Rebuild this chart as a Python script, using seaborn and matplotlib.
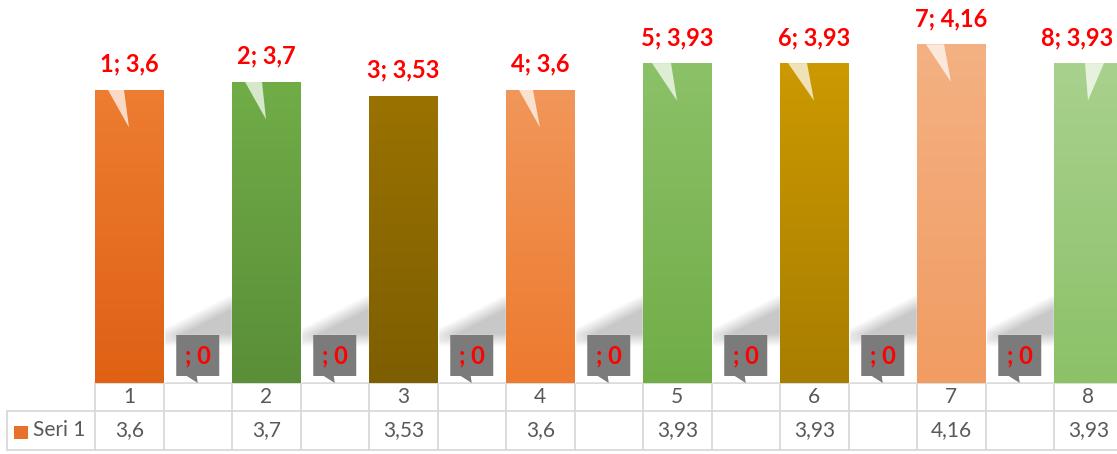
import numpy as np
import seaborn as sns
import matplotlib.pyplot as plt
import matplotlib.transforms as mtransforms
from matplotlib.colors import to_rgb
from matplotlib.patches import Polygon, Rectangle

sns.set_style("white")
plt.rcParams['font.family'] = ['Lato', 'DejaVu Sans']

# data
categories = ['1', '', '2', '', '3', '', '4', '', '5', '', '6', '', '7', '', '8']
values = [3.6, 0, 3.7, 0, 3.53, 0, 3.6, 0, 3.93, 0, 3.93, 0, 4.16, 0, 3.93]
series_name = 'Seri 1'

# gradient colours per slot (top, bottom)
top_colors = ['#ED7D31', '#FFFFFF', '#70AD47', '#FFFFFF', '#9A7200', '#FFFFFF',
              '#F1975A', '#FFFFFF', '#8CC168', '#FFFFFF', '#CC9900', '#FFFFFF',
              '#F4B183', '#FFFFFF', '#A9D18E']
bot_colors = ['#DF6114', '#FFFFFF', '#5A8E38', '#FFFFFF', '#7D5E00', '#FFFFFF',
              '#ED7A2E', '#FFFFFF', '#70AD47', '#FFFFFF', '#A87E00', '#FFFFFF',
              '#F19C62', '#FFFFFF', '#8CC168']
# white glint under each label pointer (pixel offsets from bar left)
glint = {0: (13, 29), 2: (13, 30), 6: (13, 27), 8: (9, 28), 10: (8, 27),
         12: (9, 27), 14: (31, 50)}

W, H = 1117, 454
fig = plt.figure(figsize=(W / 100, H / 100), dpi=100)
cell = 68.5
base_px = 383
px_per_unit = 81.4
ax = fig.add_axes([95 / W, (H - base_px) / H, 15 * cell / W, base_px / H])

pos = list(range(len(values)))
sns.barplot(x=pos, y=values, hue=pos, palette=top_colors, legend=False,
            width=1.0, saturation=1, ax=ax, zorder=2)
ax.axis('off')

bars = sorted(ax.patches, key=lambda p: p.get_x())
for i, p in enumerate(bars):
    h = p.get_height()
    if h <= 0:
        continue
    x0, w = p.get_x(), p.get_width()
    c1, c2 = np.array(to_rgb(top_colors[i])), np.array(to_rgb(bot_colors[i]))
    t = np.linspace(0, 1, 200)[:, None, None]
    grad = c1 * (1 - t) + c2 * t
    im = ax.imshow(grad, extent=(x0, x0 + w, 0, h), aspect='auto', zorder=3,
                   origin='upper')
    im.set_clip_path(p)
    if i in glint:
        a, b = glint[i]
        du = 1 / cell
        tri = Polygon([(x0 + a * du, h), (x0 + b * du, h),
                       (x0 + 34 * du, h - 37.5 / px_per_unit)],
                      closed=True, fc='white', ec='none', alpha=0.72, zorder=4)
        ax.add_patch(tri)
ax.set_xlim(-0.5, len(values) - 0.5)
ax.set_ylim(0, base_px / px_per_unit)


def fmt(v):
    return f"{v:g}".replace('.', ',')


# soft shadow mask for the zero-value callouts (pixel grid of one cell)
gx = np.linspace(-34.25, 34.25, 70)
gy = np.linspace(0, 95, 96)
XX, YY = np.meshgrid(gx, gy)
edge = 47 + (XX + 34.25) * (35 / 68.5)
shade = np.clip((edge - YY) / 16 + 0.5, 0, 1)
shade *= np.clip((YY - 36) / 14, 0, 1)
shadow_img = np.zeros(XX.shape + (4,))
shadow_img[..., :3] = 0.1
shadow_img[..., 3] = 0.24 * shade

labels = []
for i, (cat, v) in enumerate(zip(categories, values)):
    if v > 0:
        t = ax.annotate(f"{cat}; {fmt(v)}", xy=(i, v), xytext=(0, 13),
                        textcoords='offset points', ha='center', va='baseline',
                        color='#FF0000', fontsize=17, fontweight='bold',
                        annotation_clip=False, zorder=6)
        labels.append(t)
    else:
        ax.imshow(shadow_img, extent=(i - 0.5, i + 0.5, 0, 95 / px_per_unit),
                  origin='lower', aspect='auto', zorder=1)
        px, py = ax.transData.transform((i, v))
        tr = mtransforms.Affine2D().translate(px, py)
        box = Polygon([(-21.5, 48), (21.5, 48), (21.5, 7), (-1, 7), (0, 0),
                       (-11, 7), (-21.5, 7)], closed=True, fc='#7B7B7B',
                      ec='none', transform=tr, zorder=5, clip_on=False)
        ax.add_patch(box)
        ax.text(px, py + 27.5, f"{cat}; {fmt(v)}", transform=None,
                ha='center', va='center', color='#FF0000', fontsize=17,
                fontweight='bold', zorder=6)
ax.set_xlim(-0.5, len(values) - 0.5)
ax.set_ylim(0, base_px / px_per_unit)

# keep labels inside the figure like Excel does
fig.canvas.draw()
renderer = fig.canvas.get_renderer()
for t in labels:
    bb = t.get_window_extent(renderer)
    if bb.x1 > W - 4:
        dx = (bb.x1 - (W - 4)) * 72 / 100
        t.set_position((-dx, 13))

# data table underneath
tab = fig.add_axes([0, 0, 1, 1], zorder=-1)
tab.set_xlim(0, W)
tab.set_ylim(0, H)
tab.axis('off')
edges = [ax.transData.transform((i - 0.5, 0))[0] for i in range(len(values) + 1)]
y_top, y_mid, y_bot = H - 383, H - 411, H - 450
lc, lw = '#D9D9D9', 1.3
tab.plot([edges[0], W + 10], [y_top, y_top], color=lc, lw=lw)
tab.plot([7, W + 10], [y_mid, y_mid], color=lc, lw=lw)
tab.plot([7, W + 10], [y_bot, y_bot], color=lc, lw=lw)
tab.plot([7, 7], [y_mid, y_bot], color=lc, lw=lw)
for e in edges:
    tab.plot([e, e], [y_top, y_bot], color=lc, lw=lw)
for i, (cat, v) in enumerate(zip(categories, values)):
    cx = (edges[i] + edges[i + 1]) / 2
    tab.text(cx, (y_top + y_mid) / 2, cat, ha='center', va='center',
             color='#595959', fontsize=15)
    if v > 0:
        tab.text(cx, (y_mid + y_bot) / 2, fmt(v), ha='center', va='center',
                 color='#595959', fontsize=15)
tab.add_patch(Rectangle((14, H - 439), 14, 13, fc='#E8702A', ec='none'))
tab.text(33, (y_mid + y_bot) / 2, series_name, ha='left', va='center',
         color='#595959', fontsize=15)

fig.savefig('out.png', dpi=100)
